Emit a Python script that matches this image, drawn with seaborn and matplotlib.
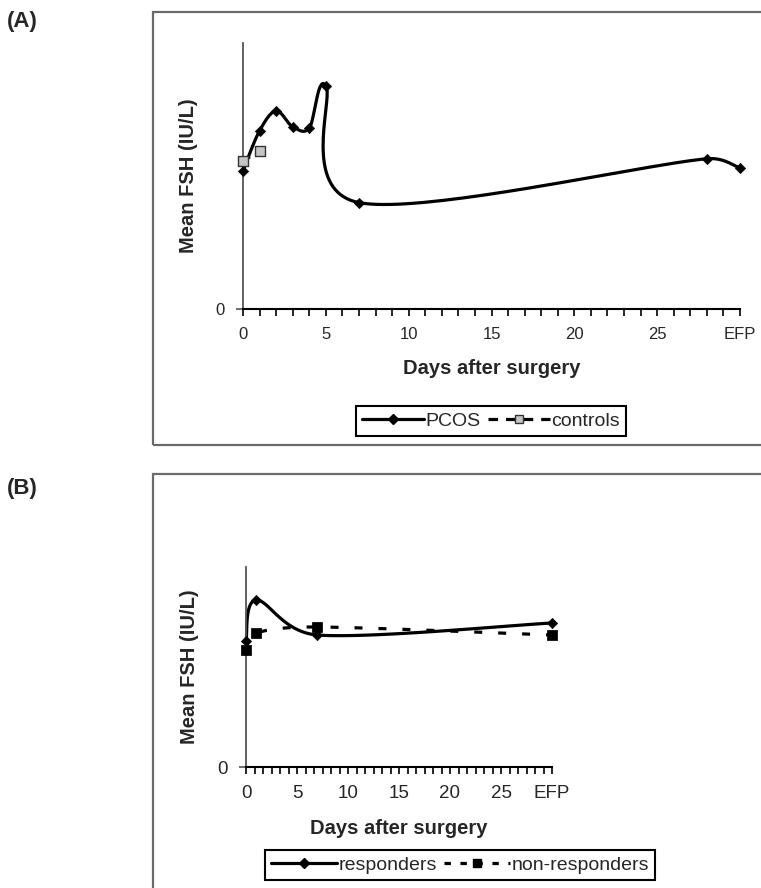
import numpy as np
import pandas as pd
import matplotlib
matplotlib.use('Agg')
import matplotlib.pyplot as plt
import seaborn as sns
from matplotlib.lines import Line2D
from matplotlib.patches import Rectangle

# ---- data (y in arbitrary IU/L units, axis 0-10) ----
days_a = [0, 1, 2, 3, 4, 5, 7, 28, 30]
pcos = [5.2, 6.7, 7.45, 6.85, 6.8, 8.4, 4.0, 5.65, 5.3]
days_ctrl = [0, 1]
controls = [5.55, 5.95]

days_b = [0, 1, 7, 30]
responders = [6.3, 8.35, 6.6, 7.2]
non_responders = [5.85, 6.7, 7.0, 6.6]

tick_pos = [0, 5, 10, 15, 20, 25, 30]
tick_lab = ['0', '5', '10', '15', '20', '25', 'EFP']


def excel_smooth(x, y, sx, sy, n=40):
    # bezier smoothing like excel "smoothed line", done in pixel-ish units
    p = np.column_stack([np.asarray(x, float) * sx, np.asarray(y, float) * sy])
    out = [p[0]]
    for i in range(len(p) - 1):
        p0 = p[i - 1] if i > 0 else p[i]
        p1, p2 = p[i], p[i + 1]
        p3 = p[i + 2] if i + 2 < len(p) else p[i + 1]
        d12 = np.linalg.norm(p2 - p1)
        d02 = np.linalg.norm(p2 - p0)
        d13 = np.linalg.norm(p3 - p1)
        f1 = 1 / 6 if d02 / 6 < d12 / 2 else d12 / (2 * d02)
        f2 = 1 / 6 if d13 / 6 < d12 / 2 else d12 / (2 * d13)
        c1 = p1 + (p2 - p0) * f1
        c2 = p2 - (p3 - p1) * f2
        t = np.linspace(0, 1, n)[1:, None]
        seg = (1 - t) ** 3 * p1 + 3 * (1 - t) ** 2 * t * c1 + 3 * (1 - t) * t ** 2 * c2 + t ** 3 * p2
        out.extend(seg)
    out = np.array(out)
    return pd.DataFrame({'day': out[:, 0] / sx, 'fsh': out[:, 1] / sy})


sns.set_style('white')
plt.rcParams['font.family'] = ['Liberation Sans', 'DejaVu Sans']

fig = plt.figure(figsize=(7.61, 8.88), dpi=100)
W, H = 761, 888


def px_axes(x0, y0, x1, y1):
    return fig.add_axes([x0 / W, 1 - y1 / H, (x1 - x0) / W, (y1 - y0) / H])


# outer frames
fig.patches.append(Rectangle((153 / W, 1 - 445 / H), 0.9, (445 - 12) / H, transform=fig.transFigure,
                             fill=False, edgecolor='#6a6a6a', lw=1.6, zorder=0))
fig.patches.append(Rectangle((153 / W, -0.2), 0.9, 0.2 + 1 - 474 / H, transform=fig.transFigure,
                             fill=False, edgecolor='#6a6a6a', lw=1.6, zorder=0))

fig.text(7 / W, 1 - 21 / H, '(A)', fontsize=16, fontweight='bold', va='center', ha='left')
fig.text(7 / W, 1 - 488 / H, '(B)', fontsize=16, fontweight='bold', va='center', ha='left')


def style_axes(ax, minor, tick_font):
    ax.set_xlim(0, 30)
    ax.set_ylim(0, 10)
    sns.despine(ax=ax)
    ax.spines['left'].set_color('#555555')
    ax.spines['left'].set_linewidth(1.3)
    ax.spines['bottom'].set_color('black')
    ax.spines['bottom'].set_linewidth(1.5)
    ax.set_xticks(tick_pos)
    ax.set_xticklabels(tick_lab, **tick_font)
    ax.set_xticks(minor, minor=True)
    ax.set_yticks([0])
    ax.set_yticklabels(['0'], **tick_font)
    ax.tick_params(axis='x', which='both', direction='out', length=5, width=1.2, color='black',
                   bottom=True, pad=8)
    ax.tick_params(axis='y', direction='out', length=5, width=1.2, color='#555555', left=True, pad=8)
    ax.set_ylabel('Mean FSH (IU/L)', fontsize=14.5, fontweight='bold', labelpad=13)
    ax.set_xlabel('Days after surgery', fontsize=14.5, fontweight='bold', labelpad=12)
    ax.patch.set_alpha(0)


# ---------------- panel A ----------------
axA = px_axes(243, 43, 740, 309)
sxA, syA = 497 / 30, 266 / 10
sA = excel_smooth(days_a, pcos, sxA, syA)
sns.lineplot(data=sA, x='day', y='fsh', sort=False, estimator=None, color='black', lw=2.3, ax=axA)
sns.lineplot(x=days_ctrl, y=controls, color='black', lw=2.0, ax=axA, dashes=False, linestyle=(0, (3, 3)))
sns.scatterplot(x=days_a, y=pcos, marker='D', s=28, color='black', edgecolor='black', ax=axA, zorder=4)
sns.scatterplot(x=days_ctrl, y=controls, marker='s', s=45, color='#c4c4c4', edgecolor='#333333',
                linewidth=1.0, ax=axA, zorder=5)
style_axes(axA, np.arange(0, 31, 1), dict(fontsize=12, family=['Liberation Sans Narrow', 'Liberation Sans']))

# ---------------- panel B ----------------
axB = px_axes(246, 567, 552, 767)
sxB, syB = 306 / 30, 200 / 10
sR = excel_smooth(days_b, responders, sxB, syB)
sN = excel_smooth(days_b, non_responders, sxB, syB)
sns.lineplot(data=sR, x='day', y='fsh', sort=False, estimator=None, color='black', lw=2.3, ax=axB)
sns.lineplot(data=sN, x='day', y='fsh', sort=False, estimator=None, color='black', lw=2.3, ax=axB)
axB.lines[-1].set_linestyle((0, (2.5, 5)))
sns.scatterplot(x=days_b, y=responders, marker='D', s=28, color='black', edgecolor='black', ax=axB, zorder=4)
sns.scatterplot(x=days_b, y=non_responders, marker='s', s=45, color='black', edgecolor='black', ax=axB, zorder=5)
style_axes(axB, np.linspace(0, 30, 37), dict(fontsize=13.5))

for ax in (axA, axB):
    for art in ax.lines + ax.collections:
        art.set_clip_on(False)

# legends
hA = [Line2D([], [], color='black', lw=2.3, marker='D', markersize=5),
      Line2D([], [], color='black', lw=2.3, linestyle=(0, (3, 2.5)), marker='s', markersize=6,
             markerfacecolor='#c4c4c4', markeredgecolor='#333333')]
legA = fig.legend(hA, ['PCOS', 'controls'], loc='center', bbox_to_anchor=(491 / W, 1 - 421 / H),
                  ncol=2, fontsize=14, frameon=True, fancybox=False, framealpha=1, edgecolor='black',
                  handlelength=3.2, handletextpad=0.05, columnspacing=0.4, numpoints=1,
                  borderpad=0.3, borderaxespad=0)
legA.get_frame().set_linewidth(1.5)

hB = [Line2D([], [], color='black', lw=2.3, marker='D', markersize=5),
      Line2D([], [], color='black', lw=2.3, linestyle=(0, (2, 3)), marker='s', markersize=6,
             markerfacecolor='black', markeredgecolor='black')]
legB = fig.legend(hB, ['responders', 'non-responders'], loc='center', bbox_to_anchor=(460 / W, 1 - 865 / H),
                  ncol=2, fontsize=14, frameon=True, fancybox=False, framealpha=1, edgecolor='black',
                  handlelength=3.4, handletextpad=0.05, columnspacing=0.4, numpoints=1,
                  borderpad=0.3, borderaxespad=0)
legB.get_frame().set_linewidth(1.5)

plt.savefig('out.png', dpi=100)
